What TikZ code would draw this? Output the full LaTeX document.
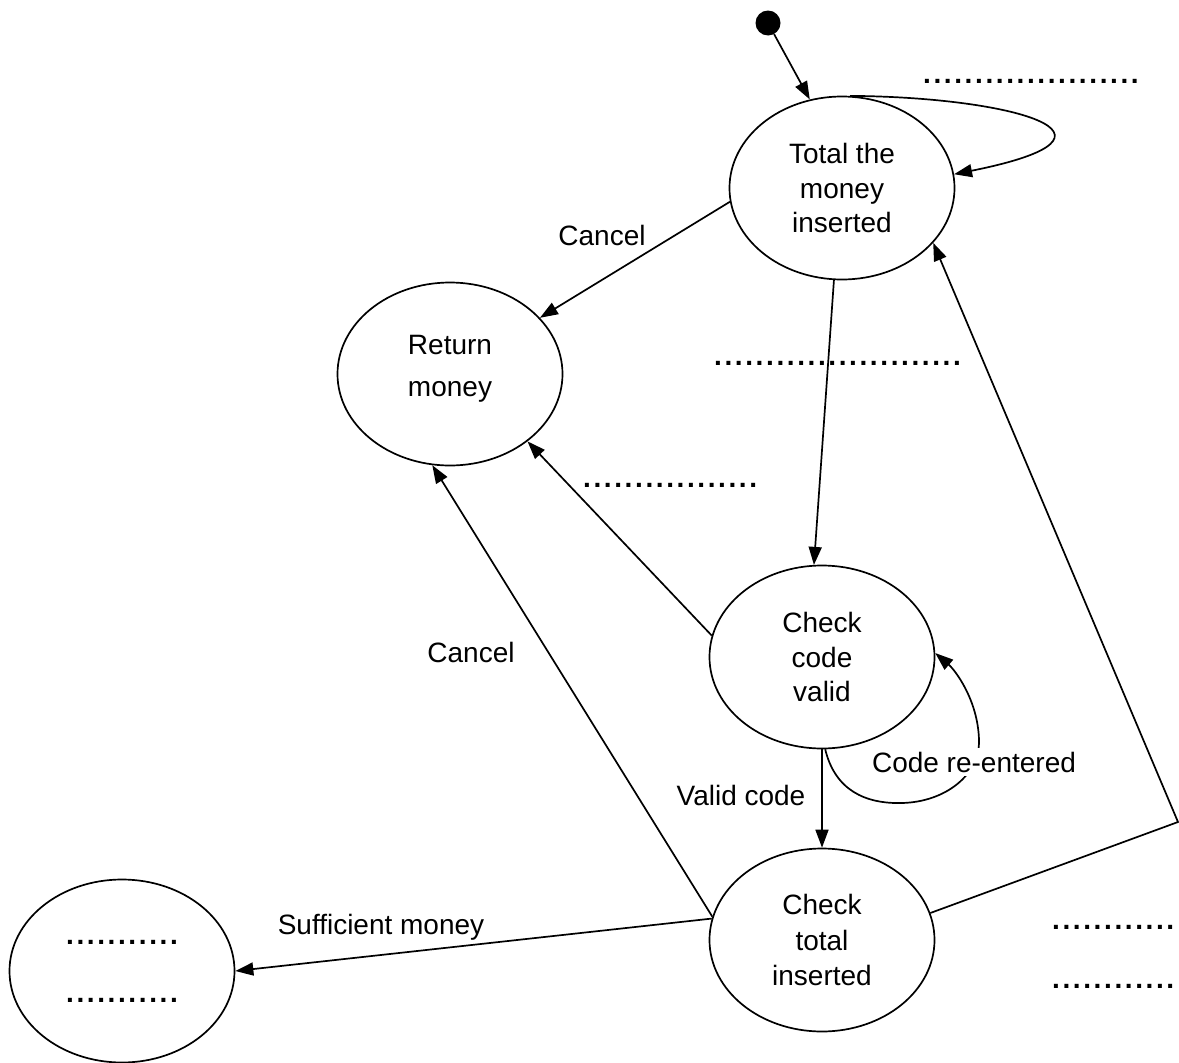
\documentclass[tikz,border=0pt]{standalone}
\usepackage{fontspec}
\setmainfont{Liberation Sans}
\newfontfamily\dotsfont[LetterSpace=9.3]{Liberation Sans}
\usetikzlibrary{arrows.meta,shapes.geometric}
\begin{document}
\begin{tikzpicture}[x=1pt,y=-1pt,
  state/.style={ellipse,draw,line width=1.7pt,minimum width=225pt,minimum height=183pt,
    inner sep=0pt,align=center,font=\fontsize{28}{34.5}\selectfont},
  lbl/.style={font=\fontsize{28}{34}\selectfont,inner sep=0pt,anchor=base},
  blank/.style={font=\fontsize{28}{34}\selectfont\dotsfont\bfseries,inner sep=0pt,anchor=base west},
  arr/.style={line width=1.7pt,-{Triangle[length=18pt,width=13pt]}}]
\useasboundingbox (0,0) rectangle (1179,1063);

\node[circle,fill=black,minimum size=25pt,inner sep=0pt] (init) at (768,23) {};
\node[state] (total) at (842,188) {Total the\\money\\inserted};
\node[state] (ret) at (450,374) {Return\\[7.5pt]money\rule[-17pt]{0pt}{17pt}};
\node[state] (code) at (822,657) {Check\\code\\valid};
\node[state] (ctot) at (822,940) {Check\\[1pt]total\\[1pt]inserted};
\node[state,font=\fontsize{28}{58}\selectfont\dotsfont\bfseries] (final) at (122,971) {...........\\...........};

% connectors
\draw[arr] (init) -- (total.110.7);
\draw[arr] (total.85) .. controls (1010,97) and (1150,135) .. (total.7);
\draw[arr] (total.187) -- (ret.32);
\draw[arr] (total.265.6) -- (code.95.5);
\draw[arr] (code.169.6) -- (ret.319.2);
\draw[arr] (ctot.168.6) -- (ret.259.5);
\draw[arr] (ctot.169.6) -- (final.-0.5);
\draw[arr] (code) -- (ctot);
\draw[arr] (code.-88) .. controls (835,790) and (865,804) .. (902,803)
  .. controls (945,802) and (980,775) .. (979,740)
  .. controls (978,700) and (955,670) .. (code.2);
\coordinate (corner) at (1178,822);
\draw[arr] (ctot.14) -- (corner) -- (total.329.4);

% labels
\node[lbl] (cancel1) at (602,245) {Cancel};
\node[lbl] (cancel2) at (471,662) {Cancel};
\node[lbl] (valid) at (741,805) {Valid code};
\node[lbl] (suff) at (381,934) {Sufficient money};
\node[lbl,fill=white,inner sep=4pt] (reent) at (974,772) {Code re-entered};

% blanks
\node[blank] (b1) at (923,83) {.....................};
\node[blank] (b2) at (714,365) {........................};
\node[blank] (b3) at (583,487) {.................};
\node[blank] (b4) at (1052,929) {............};
\node[blank] (b5) at (1052,988) {............};
\end{tikzpicture}
\end{document}
